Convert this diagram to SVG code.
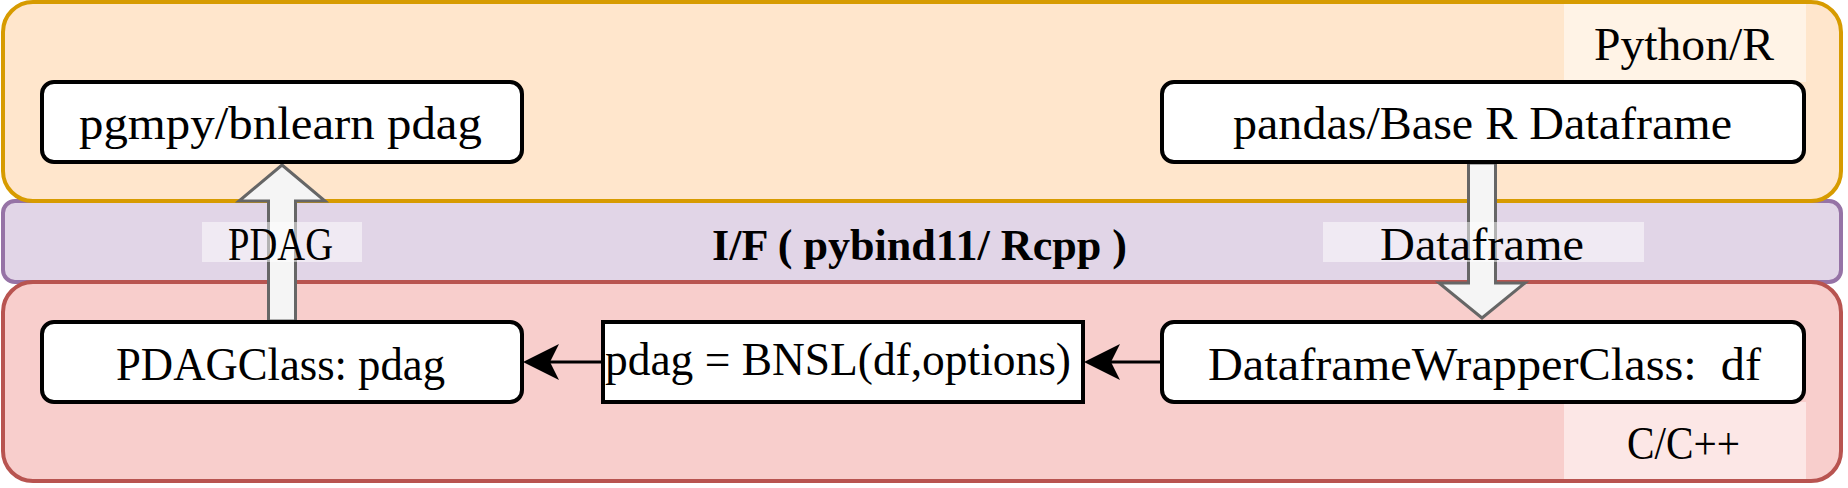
<svg xmlns="http://www.w3.org/2000/svg" width="1848" height="488" viewBox="0 0 1848 488">
<style>
.t{font-family:"Liberation Serif","DejaVu Serif",serif;font-size:47px;fill:#000;text-anchor:middle;white-space:pre}
.b{font-weight:bold;font-size:45px}
.node{fill:#fff;stroke:#000;stroke-width:4}
.lbl{fill:#fff;fill-opacity:0.5}
.hollow{fill:#f5f5f5;stroke:#666;stroke-width:3;stroke-linejoin:miter}
.edge{stroke:#000;stroke-width:3;fill:none}
.head{fill:#000}
.layer{stroke-width:4}
</style>
<g id="layer-if">
  <rect class="layer" x="3" y="201" width="1838" height="81" rx="12" fill="#e1d5e7" stroke="#9673a6"/>
</g>
<g id="layer-python">
  <rect class="layer" x="3" y="2" width="1838" height="199" rx="30" fill="#ffe6cc" stroke="#d79b00"/>
</g>
<g id="layer-c">
  <rect class="layer" x="3" y="282" width="1838" height="199" rx="30" fill="#f8cecc" stroke="#b85450"/>
</g>
<g id="label-python">
  <rect class="lbl" x="1564" y="4" width="242" height="78"/>
  <text class="t" x="1684" y="60" textLength="180" lengthAdjust="spacingAndGlyphs">Python/R</text>
</g>
<g id="label-c">
  <rect class="lbl" x="1564" y="402" width="242" height="77"/>
  <text class="t" x="1683.5" y="459" textLength="113" lengthAdjust="spacingAndGlyphs">C/C++</text>
</g>
<g id="label-if">
  <text class="t b" x="919.5" y="260" textLength="415" lengthAdjust="spacingAndGlyphs">I/F ( pybind11/ Rcpp )</text>
</g>
<g id="connectors">
  <path class="hollow" d="M282,165 L325,201 L295.5,201 L295.5,321 L268.5,321 L268.5,201 L239,201 Z"/>
  <path class="hollow" d="M1468.5,163 L1495.5,163 L1495.5,283 L1525,283 L1482,318 L1439,283 L1468.5,283 Z"/>
  <line class="edge" x1="601" y1="362" x2="548" y2="362"/>
  <polygon class="head" points="523,362 559,344 550,362 559,380"/>
  <line class="edge" x1="1162" y1="362" x2="1109" y2="362"/>
  <polygon class="head" points="1084,362 1120,344 1111,362 1120,380"/>
  <g id="label-pdag">
    <rect class="lbl" x="202" y="222" width="160" height="40"/>
    <text class="t" x="280.5" y="260" textLength="105" lengthAdjust="spacingAndGlyphs">PDAG</text>
  </g>
  <g id="label-dataframe">
    <rect class="lbl" x="1323" y="222" width="321" height="40"/>
    <text class="t" x="1482" y="260" textLength="204" lengthAdjust="spacingAndGlyphs">Dataframe</text>
  </g>
</g>
<g id="node-pgmpy">
  <rect class="node" x="42" y="82" width="480" height="80" rx="12"/>
  <text class="t" x="280.5" y="139" textLength="403" lengthAdjust="spacingAndGlyphs">pgmpy/bnlearn pdag</text>
</g>
<g id="node-pandas">
  <rect class="node" x="1162" y="82" width="642" height="80" rx="12"/>
  <text class="t" x="1482.5" y="139" textLength="499" lengthAdjust="spacingAndGlyphs">pandas/Base R Dataframe</text>
</g>
<g id="node-pdagclass">
  <rect class="node" x="42" y="322" width="480" height="80" rx="12"/>
  <text class="t" x="280.5" y="380" textLength="329" lengthAdjust="spacingAndGlyphs">PDAGClass: pdag</text>
</g>
<g id="node-bnsl">
  <rect class="node" x="603" y="322" width="480" height="80"/>
  <text class="t" x="838" y="375" textLength="466" lengthAdjust="spacingAndGlyphs">pdag = BNSL(df,options)</text>
</g>
<g id="node-wrapper">
  <rect class="node" x="1162" y="322" width="642" height="80" rx="12"/>
  <text class="t" x="1484.5" y="380" textLength="553" lengthAdjust="spacingAndGlyphs">DataframeWrapperClass:  df</text>
</g>
</svg>
